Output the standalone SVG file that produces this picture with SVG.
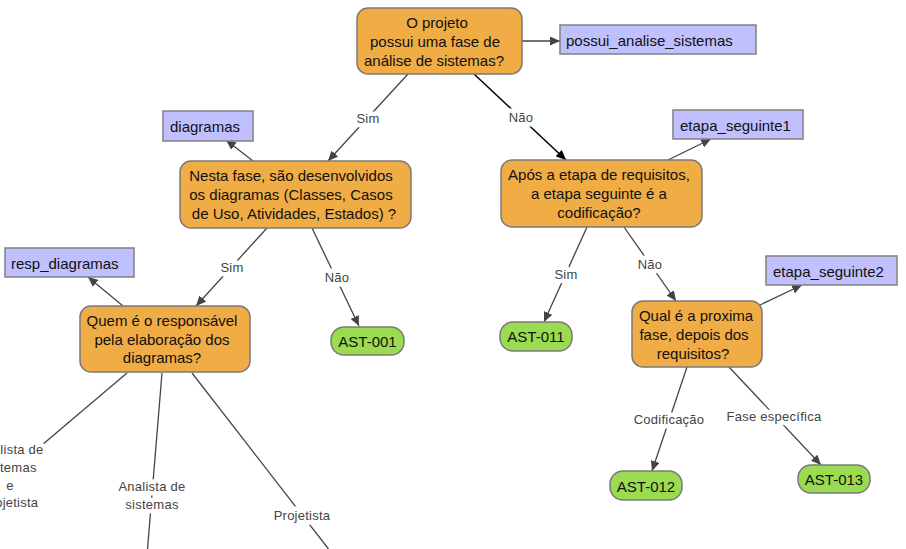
<svg xmlns="http://www.w3.org/2000/svg" width="906" height="549" viewBox="0 0 906 549">
<style>
.q{fill:#F0AC45;stroke:#7a7a7a;stroke-width:1.5}
.v{fill:#C0C0FF;stroke:#808080;stroke-width:1.5}
.a{fill:#9ADB50;stroke:#7a7a7a;stroke-width:1.5}
.t{font-family:"Liberation Sans",Arial,sans-serif;font-size:15px;fill:#111}
.c{text-anchor:middle}
.e{stroke:#444;stroke-width:1.3;fill:none}
.lb{font-family:"Liberation Sans",Arial,sans-serif;font-size:13px;letter-spacing:0.25px;fill:#444;text-anchor:middle;stroke:#fff;stroke-width:9px;stroke-linejoin:round;paint-order:stroke}
</style>
<defs>
<marker id="ar" markerUnits="userSpaceOnUse" markerWidth="11" markerHeight="9" refX="10" refY="4.5" orient="auto"><path d="M0,0 L10,4.5 L0,9 z" fill="#444"/></marker>
<marker id="ak" markerUnits="userSpaceOnUse" markerWidth="11" markerHeight="9" refX="10" refY="4.5" orient="auto"><path d="M0,0 L10,4.5 L0,9 z" fill="#000"/></marker>
</defs>
<g id="connectors">
<line class="e" x1="522" y1="41" x2="560" y2="41" marker-end="url(#ar)"/>
<line class="e" x1="408" y1="74" x2="328" y2="161" marker-end="url(#ar)"/>
<line x1="474" y1="74" x2="566" y2="160" stroke="#000" stroke-width="1.5" marker-end="url(#ak)"/>
<line class="e" x1="253" y1="161" x2="226" y2="140" marker-end="url(#ar)"/>
<line class="e" x1="668" y1="160" x2="711" y2="139" marker-end="url(#ar)"/>
<line class="e" x1="587" y1="227" x2="544" y2="322" marker-end="url(#ar)"/>
<line class="e" x1="624" y1="227" x2="676" y2="301" marker-end="url(#ar)"/>
<line class="e" x1="760" y1="305" x2="802" y2="285" marker-end="url(#ar)"/>
<line class="e" x1="687" y1="367" x2="652" y2="471" marker-end="url(#ar)"/>
<line class="e" x1="729" y1="367" x2="821" y2="465" marker-end="url(#ar)"/>
<line class="e" x1="267" y1="228" x2="196" y2="306" marker-end="url(#ar)"/>
<line class="e" x1="312" y1="228" x2="359" y2="326" marker-end="url(#ar)"/>
<line class="e" x1="123" y1="306" x2="88" y2="277" marker-end="url(#ar)"/>
<line class="e" x1="127" y1="373" x2="42" y2="445"/>
<line class="e" x1="162" y1="373" x2="147.5" y2="549"/>
<line class="e" x1="192" y1="373" x2="328.5" y2="549"/>
<text class="lb" x="368" y="122.5">Sim</text>
<text class="lb" x="521" y="122">Não</text>
<text class="lb" x="232" y="271.5">Sim</text>
<text class="lb" x="337" y="281.5">Não</text>
<text class="lb" x="566" y="278.5">Sim</text>
<text class="lb" x="650" y="268.5">Não</text>
<text class="lb" x="669" y="423.5">Codificação</text>
<text class="lb" x="774" y="420.5">Fase específica</text>
<text class="lb" x="10"><tspan x="10" y="454">Analista de</tspan><tspan x="10" y="472">sistemas</tspan><tspan x="10" y="489.5">e</tspan><tspan x="10" y="507">Projetista</tspan></text>
<text class="lb"><tspan x="152" y="491">Analista de</tspan><tspan x="152" y="509">sistemas</tspan></text>
<text class="lb" x="302" y="520">Projetista</text>
</g>
<g id="n_root">
<rect class="q" x="357" y="8" width="165" height="66" rx="11"/>
<text class="t c"><tspan x="437" y="28">O projeto</tspan><tspan x="435" y="47">possui uma fase de</tspan><tspan x="434" y="66">análise de sistemas?</tspan></text>
</g>
<g id="n_possui">
<rect class="v" x="560" y="25" width="196" height="29"/>
<text class="t" x="566" y="46">possui_analise_sistemas</text>
</g>
<g id="n_diagramas">
<rect class="v" x="163" y="111" width="90" height="30"/>
<text class="t" x="170" y="132">diagramas</text>
</g>
<g id="n_nesta">
<rect class="q" x="180" y="161" width="231" height="67" rx="11"/>
<text class="t c"><tspan x="291" y="181">Nesta fase, são desenvolvidos</tspan><tspan x="291" y="200">os diagramas (Classes, Casos</tspan><tspan x="294" y="219">de Uso, Atividades, Estados) ?</tspan></text>
</g>
<g id="n_etapa1">
<rect class="v" x="673" y="110" width="130" height="29"/>
<text class="t" x="680" y="131">etapa_seguinte1</text>
</g>
<g id="n_apos">
<rect class="q" x="501" y="160" width="201" height="67" rx="11"/>
<text class="t c"><tspan x="599" y="180">Após a etapa de requisitos,</tspan><tspan x="599" y="199">a etapa seguinte é a</tspan><tspan x="599" y="218">codificação?</tspan></text>
</g>
<g id="n_etapa2">
<rect class="v" x="766" y="256" width="131" height="29"/>
<text class="t" x="773" y="277">etapa_seguinte2</text>
</g>
<g id="n_qual">
<rect class="q" x="632" y="301" width="130" height="66" rx="11"/>
<text class="t c"><tspan x="696" y="321">Qual é a proxima</tspan><tspan x="694" y="340">fase, depois dos</tspan><tspan x="693" y="359">requisitos?</tspan></text>
</g>
<g id="n_ast011">
<rect class="a" x="500" y="322" width="72" height="29" rx="13"/>
<text class="t c" x="536" y="341.5">AST-011</text>
</g>
<g id="n_ast012">
<rect class="a" x="610" y="471" width="72" height="29" rx="13"/>
<text class="t c" x="646" y="491.5">AST-012</text>
</g>
<g id="n_ast013">
<rect class="a" x="798" y="465" width="72" height="28" rx="13"/>
<text class="t c" x="834" y="484.5">AST-013</text>
</g>
<g id="n_resp">
<rect class="v" x="5" y="248" width="129" height="29"/>
<text class="t" x="11" y="268.5">resp_diagramas</text>
</g>
<g id="n_quem">
<rect class="q" x="80" y="306" width="170" height="66" rx="11"/>
<text class="t c"><tspan x="162" y="326">Quem é o responsável</tspan><tspan x="162" y="345">pela elaboração dos</tspan><tspan x="162" y="363">diagramas?</tspan></text>
</g>
<g id="n_ast001">
<rect class="a" x="331" y="327" width="73" height="28" rx="13"/>
<text class="t c" x="367.5" y="346.5">AST-001</text>
</g>
</svg>
